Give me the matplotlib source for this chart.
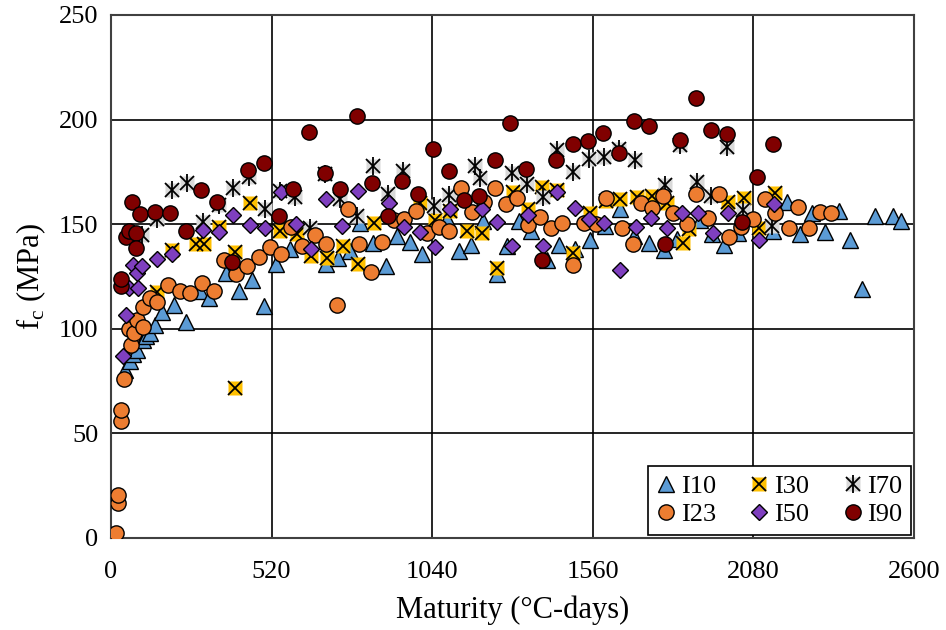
import numpy as np
import matplotlib
matplotlib.use('Agg')
import matplotlib.pyplot as plt

# data: maturity (degC-days), fc (MPa)
i10_x = [45, 61, 72, 85, 105, 115, 126, 142, 166, 204, 244, 287, 318, 372, 414, 456, 495, 533, 580,
         695, 734, 774, 806, 847, 890, 927, 968, 1008, 1088, 1127, 1165, 1205, 1249, 1281, 1320, 1360,
         1411, 1450, 1502, 1552, 1601, 1648, 1694, 1743, 1789, 1831, 1907, 1946, 1986, 2031, 2144,
         2188, 2231, 2269, 2312, 2356, 2393, 2433, 2475, 2532, 2557]
i10_y = [80, 84.3, 88, 89.6, 94.7, 96.3, 97.9, 101.9, 108, 111.2, 103, 118, 114.7, 126.5, 118, 123.3,
         111, 130.7, 137.9, 130.7, 133.6, 137, 150.3, 140.8, 129.9, 144.5, 141.6, 135.5, 152.2, 137,
         140.2, 151.4, 126.3, 139.4, 151.4, 146.6, 132.7, 140, 137.9, 142.2, 149, 157, 144.2, 140.8,
         137.4, 143, 151.8, 145.3, 140, 145.8, 146.6, 160.5, 145.3, 155.3, 146.1, 156.2, 142.6, 119,
         153.7, 153.8, 151.7]

i30_x = [150, 199, 274, 301, 350, 401, 401, 451, 547, 601, 649, 698, 750, 801, 851, 1000, 1049, 1098,
         1152, 1200, 1249, 1302, 1349, 1397, 1445, 1497, 1551, 1604, 1648, 1702, 1751, 1799, 1853,
         1873, 1999, 2050, 2098, 2150]
i30_y = [117.6, 137.7, 140.6, 140.6, 148.5, 136.7, 71.6, 160, 146.6, 145.2, 134.8, 133.6, 139.6, 130.8,
         150.3, 160.2, 151.8, 156.2, 146.6, 145.8, 129.1, 165.4, 157.4, 167.8, 166.2, 136.3, 155.4,
         161, 162, 163, 163.4, 160.2, 141.1, 147.8, 160.6, 162.6, 148.3, 164.8]

i70_x = [100, 150, 198, 245, 297, 350, 396, 446, 498, 547, 595, 643, 693, 741, 797, 849, 897, 945,
         1046, 1095, 1179, 1195, 1297, 1347, 1398, 1445, 1497, 1547, 1595, 1646, 1697, 1795, 1843,
         1896, 1944, 1993, 2045, 2140]
i70_y = [145, 152.4, 166.2, 169.5, 150.8, 159, 167.4, 172.5, 157, 165.8, 163, 148.2, 174, 162, 153.8,
         177.8, 164.2, 175.2, 158.5, 164, 177.6, 171.8, 174.6, 169.2, 163, 185.6, 174.7, 181, 182.2,
         185.7, 180.8, 168.5, 187.6, 170, 163.2, 186.8, 156.7, 149]

i23_x = [16, 22, 22, 32, 32, 41, 59, 64, 74, 85, 105, 105, 125, 148, 186, 223, 257, 294, 333, 365,
         405, 439, 479, 515, 550, 582, 620, 660, 696, 732, 768, 803, 842, 877, 915, 949, 986, 1024,
         1061, 1096, 1132, 1168, 1208, 1243, 1279, 1314, 1349, 1389, 1426, 1459, 1496, 1532, 1570,
         1604, 1654, 1689, 1717, 1751, 1786, 1821, 1864, 1895, 1933, 1970, 2000, 2041, 2078, 2116,
         2151, 2196, 2223, 2259, 2296, 2331]
i23_y = [2.4, 16.8, 20.5, 55.6, 60.9, 76, 99.9, 92, 97.9, 104.2, 100.9, 110.5, 114.5, 112.5, 121.1,
         117.9, 117, 121.9, 117.8, 132.9, 126.3, 130, 134.4, 139, 135.5, 148.5, 139.4, 144.6, 140.6,
         111.5, 157, 140.4, 127, 141.2, 151.8, 152.6, 156.4, 145.8, 148.8, 146.6, 167.4, 155.7, 160.5,
         167.2, 159.6, 162.6, 149.4, 153.6, 148.3, 150.6, 130.3, 150.3, 150, 162.6, 148, 140.7, 160.2,
         157.8, 163.4, 155.4, 149.8, 164.5, 153, 164.4, 143.8, 148.7, 152.6, 161.8, 155.1, 148.3,
         158.3, 148.3, 155.8, 155.2]

i50_x = [38, 48, 59, 71, 83, 86, 99, 150, 199, 299, 350, 396, 449, 499, 549, 598, 647, 697, 749, 799,
         900, 950, 1001, 1049, 1099, 1200, 1249, 1300, 1350, 1398, 1445, 1501, 1547, 1597, 1648, 1701,
         1748, 1799, 1849, 1901, 1948, 1999, 2098, 2148]
i50_y = [87.1, 106.3, 119.5, 130.5, 126.5, 119.2, 129.9, 133.4, 135.8, 147.1, 146.1, 154.3, 149.7,
         148.3, 165.2, 150, 138.3, 162, 149.3, 165.8, 160.2, 148.8, 146.3, 139, 157.4, 157, 151.1,
         139.6, 154.2, 139.6, 165.5, 157.8, 152.2, 150.6, 128.1, 148.4, 153, 148.1, 155.1, 155.2,
         145.7, 155.2, 142.6, 159.8]

i90_x = [32, 32, 48, 59, 68, 81, 81, 94, 142, 192, 243, 291, 344, 392, 444, 494, 545, 590, 641, 693,
         741, 795, 844, 898, 941, 993, 1044, 1093, 1143, 1192, 1243, 1292, 1343, 1394, 1442, 1495,
         1546, 1592, 1644, 1694, 1743, 1794, 1843, 1893, 1943, 1994, 2042, 2092, 2142]
i90_y = [120.3, 123.5, 144, 146.6, 160.4, 145.9, 138.7, 155, 156, 155.3, 146.5, 166.3, 160.7, 131.8,
         175.9, 179, 153.8, 167, 194.2, 174.3, 166.8, 201.7, 169.5, 154, 170.7, 164.2, 186, 175.5,
         161.5, 163.4, 180.5, 198.3, 176.5, 133, 180.5, 188.3, 189.5, 193.6, 183.8, 199.1, 197, 140.4,
         190.1, 210.2, 195, 193, 150.9, 172.5, 188.3]

plt.rcParams['font.family'] = 'Liberation Serif'
plt.rcParams['mathtext.fontset'] = 'custom'
plt.rcParams['mathtext.rm'] = 'Liberation Serif'

fig = plt.figure(figsize=(9.46, 6.3), dpi=100)
ax = fig.add_axes([0.1173, 0.1465, 0.8489, 0.8297])

ec = 'black'
ms = 11
h10, = ax.plot(i10_x, i10_y, ls='none', marker='^', ms=ms + 0.5, mfc='#5B9BD5', mec=ec, mew=1, zorder=3)
s30, = ax.plot(i30_x, i30_y, ls='none', marker='s', ms=10, mfc='#FFC000', mec='none', zorder=4)
x30, = ax.plot(i30_x, i30_y, ls='none', marker='x', ms=9.5, mec=ec, mew=1.3, zorder=4)
s70, = ax.plot(i70_x, i70_y, ls='none', marker='s', ms=10, mfc='#D9D9D9', mec='none', zorder=5)
x70, = ax.plot(i70_x, i70_y, ls='none', marker='x', ms=9.5, mec=ec, mew=1.3, zorder=5)
v70, = ax.plot(i70_x, i70_y, ls='none', marker='|', ms=13, mec=ec, mew=1.3, zorder=5)
h23, = ax.plot(i23_x, i23_y, ls='none', marker='o', ms=ms, mfc='#ED7D31', mec=ec, mew=1, zorder=6)
h50, = ax.plot(i50_x, i50_y, ls='none', marker='D', ms=8, mfc='#7F3FBF', mec=ec, mew=1, zorder=7)
h90, = ax.plot(i90_x, i90_y, ls='none', marker='o', ms=ms, mfc='#800000', mec=ec, mew=1, zorder=8)

ax.set_xlim(0, 2600)
ax.set_ylim(0, 250)
ax.set_xticks(np.arange(0, 2601, 520))
ax.set_yticks(np.arange(0, 251, 50))
ax.grid(True, color='black', lw=1.2)
ax.set_axisbelow(True)
ax.tick_params(length=0, labelsize=19)
ax.tick_params(axis='x', pad=17)
ax.tick_params(axis='y', pad=9)
for sp in ax.spines.values():
    sp.set_color('#404040')
    sp.set_linewidth(1.5)

ax.set_xlabel('Maturity (°C-days)', fontsize=22, labelpad=9)
ax.set_ylabel('f$_\\mathregular{c}$ (MPa)', fontsize=22, labelpad=8)

handles = [h10, h23, (s30, x30), h50, (s70, x70, v70), h90]
labels = ['I10', 'I23', 'I30', 'I50', 'I70', 'I90']
leg = ax.legend(handles, labels, ncol=3, loc='lower right', fontsize=19, frameon=True,
                fancybox=False, edgecolor='black', framealpha=1, borderaxespad=0.1,
                handlelength=0.7, handletextpad=0.2, columnspacing=1.3, labelspacing=0.15,
                borderpad=0.35)
leg.get_frame().set_linewidth(1.2)
leg.set_zorder(20)

fig.savefig('out.png', dpi=100)
